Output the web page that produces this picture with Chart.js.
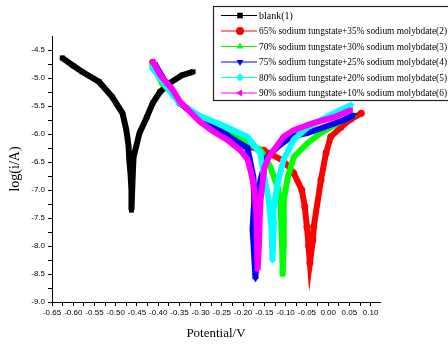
<!DOCTYPE html>
<html>
<head>
<meta charset="utf-8">
<script src="https://cdn.jsdelivr.net/npm/chart.js@4.4.1/dist/chart.umd.min.js"></script>
<style>
  html, body { margin: 0; padding: 0; background: #fff; }
  #wrap { width: 448px; height: 345px; position: relative; }
</style>
</head>
<body>
<div id="wrap"><canvas id="c" width="448" height="345"></canvas></div>
<script>
// tick labels
const xTicks = [-0.65, -0.60, -0.55, -0.50, -0.45, -0.40, -0.35, -0.30, -0.25, -0.20, -0.15, -0.10, -0.05, 0.00, 0.05, 0.10];
const yTicks = [-9.0, -8.5, -8.0, -7.5, -7.0, -6.5, -6.0, -5.5, -5.0, -4.5];

const seriesNames = [
    'blank(1)',
    '65% sodium tungstate+35% sodium molybdate(2)',
    '70% sodium tungstate+30% sodium molybdate(3)',
    '75% sodium tungstate+25% sodium molybdate(4)',
    '80% sodium tungstate+20% sodium molybdate(5)',
    '90% sodium tungstate+10% sodium molybdate(6)'
];

// [potential V, log(i/A)]
const blank = [
    [-0.626, -4.64], [-0.600, -4.78], [-0.579, -4.89], [-0.539, -5.07], [-0.508, -5.34],
    [-0.484, -5.63], [-0.475, -5.93], [-0.470, -6.20], [-0.468, -6.46], [-0.465, -6.73],
    [-0.463, -7.00], [-0.463, -7.36],
    [-0.460, -6.73], [-0.458, -6.41], [-0.444, -5.98], [-0.427, -5.70], [-0.413, -5.45],
    [-0.396, -5.25], [-0.373, -5.09], [-0.344, -4.95], [-0.318, -4.89]
];
const mix65 = [
    [-0.413, -4.72], [-0.390, -5.08], [-0.366, -5.27], [-0.349, -5.45], [-0.302, -5.72],
    [-0.238, -6.00], [-0.190, -6.22], [-0.152, -6.29], [-0.105, -6.48], [-0.081, -6.70],
    [-0.062, -7.00], [-0.055, -7.30], [-0.050, -7.66], [-0.046, -8.00], [-0.043, -8.30],
    [-0.036, -7.90], [-0.034, -7.66], [-0.017, -6.82], [-0.005, -6.34], [0.006, -6.05],
    [0.030, -5.88], [0.054, -5.73], [0.078, -5.63]
];
const mix70 = [
    [-0.415, -4.75], [-0.390, -5.10], [-0.366, -5.28], [-0.349, -5.45], [-0.302, -5.72],
    [-0.238, -5.95], [-0.190, -6.15], [-0.159, -6.29], [-0.136, -6.59], [-0.119, -6.95],
    [-0.112, -7.18], [-0.110, -7.70], [-0.108, -8.10], [-0.107, -8.52],
    [-0.105, -8.00], [-0.104, -7.50], [-0.105, -7.18], [-0.095, -6.77], [-0.081, -6.41],
    [-0.048, -6.16], [-0.017, -5.98], [0.023, -5.80], [0.061, -5.66]
];
const mix75 = [
    [-0.408, -4.75], [-0.385, -5.05], [-0.366, -5.25], [-0.349, -5.45], [-0.302, -5.72],
    [-0.271, -5.88], [-0.238, -6.02], [-0.223, -6.10], [-0.190, -6.25], [-0.176, -6.77],
    [-0.174, -7.18], [-0.178, -7.71], [-0.176, -7.93], [-0.171, -8.59],
    [-0.168, -7.50], [-0.165, -7.10], [-0.159, -6.82], [-0.150, -6.55], [-0.143, -6.41],
    [-0.119, -6.23], [-0.088, -6.05], [-0.048, -5.98], [-0.010, -5.88], [0.037, -5.75],
    [0.061, -5.66]
];
const mix80 = [
    [-0.415, -4.82], [-0.385, -5.10], [-0.366, -5.30], [-0.349, -5.45], [-0.302, -5.68],
    [-0.238, -5.88], [-0.190, -6.05], [-0.160, -6.34], [-0.152, -6.70], [-0.140, -7.18],
    [-0.133, -7.70], [-0.131, -8.25],
    [-0.128, -7.60], [-0.129, -7.36], [-0.119, -6.88], [-0.105, -6.46], [-0.081, -6.10],
    [-0.048, -5.88], [-0.017, -5.75], [0.014, -5.63], [0.054, -5.48]
];
const mix90 = [
    [-0.413, -4.70], [-0.395, -4.95], [-0.366, -5.21], [-0.349, -5.42], [-0.332, -5.55],
    [-0.302, -5.78], [-0.271, -5.95], [-0.238, -6.10], [-0.207, -6.29], [-0.190, -6.45],
    [-0.183, -6.64], [-0.176, -6.88], [-0.171, -7.20], [-0.168, -7.60], [-0.167, -8.00],
    [-0.166, -8.43],
    [-0.163, -8.00], [-0.161, -7.50], [-0.159, -7.18], [-0.155, -6.90], [-0.150, -6.60],
    [-0.140, -6.41], [-0.129, -6.30], [-0.105, -6.05], [-0.081, -5.93], [-0.034, -5.80],
    [0.014, -5.70], [0.054, -5.57]
];

const seriesData = [blank, mix65, mix70, mix75, mix80, mix90];
const colors = ['#000000', '#ff0000', '#00ff00', '#0000ff', '#00ffff', '#ff00ff'];
const styles = ['rect', 'circle', 'triangle', 'triangle', 'rectRot', 'triangle'];
const rotations = [0, 0, 0, 180, 0, 270];

const datasets = seriesData.map((d, i) => ({
    label: seriesNames[i],
    data: d.map(p => ({ x: p[0], y: p[1] })),
    showLine: true,
    borderColor: colors[i],
    backgroundColor: colors[i],
    borderWidth: 6,
    pointStyle: styles[i],
    rotation: rotations[i],
    pointRadius: 3.5,
    pointBorderWidth: 0,
    order: 5 - i
}));

function buildTicks(majors, step) {
    const out = [];
    majors.forEach((v, i) => {
        out.push({ value: v, major: true });
        if (i < majors.length - 1) out.push({ value: v + step / 2, major: false });
    });
    return out;
}

// legend drawn inside the plot, top right, like the original
const boxLegend = {
    id: 'boxLegend',
    afterDraw(chart) {
        const ctx = chart.ctx;
        const x0 = 213, y0 = 6, w = 240, h = 94;
        ctx.save();
        ctx.fillStyle = '#fff';
        ctx.fillRect(x0, y0, w, h);
        ctx.strokeStyle = '#222';
        ctx.lineWidth = 1.2;
        ctx.strokeRect(x0 + 0.5, y0 + 0.5, w, h);
        seriesNames.forEach((name, i) => {
            const y = 15.5 + i * 15.5;
            ctx.strokeStyle = colors[i];
            ctx.lineWidth = 1;
            ctx.beginPath();
            ctx.moveTo(221, y);
            ctx.lineTo(257, y);
            ctx.stroke();
            ctx.fillStyle = colors[i];
            ctx.strokeStyle = colors[i];
            Chart.helpers.drawPoint(ctx, {
                pointStyle: styles[i],
                rotation: rotations[i],
                radius: 4,
                borderWidth: 0
            }, 240, y);
            ctx.fillStyle = '#000';
            ctx.font = '10px "Liberation Serif", serif';
            ctx.textBaseline = 'middle';
            ctx.fillText(name, 259, y + 0.5, 188);
        });
        ctx.restore();
    }
};

new Chart(document.getElementById('c'), {
    type: 'scatter',
    data: { datasets: datasets },
    options: {
        responsive: false,
        animation: false,
        layout: { padding: { left: 3, right: 68, top: 36, bottom: 0 } },
        plugins: {
            legend: { display: false },
            tooltip: { enabled: false }
        },
        elements: { line: { tension: 0 } },
        scales: {
            x: {
                type: 'linear',
                min: -0.65,
                max: 0.122,
                afterBuildTicks: function (scale) {
                    scale.ticks = buildTicks(xTicks, 0.05);
                },
                afterFit: function (scale) {
                    scale.height = 43;
                },
                grid: { drawOnChartArea: false, drawTicks: true, tickLength: 4, tickColor: '#000', tickWidth: 1 },
                border: { display: true, color: '#000', width: 1 },
                ticks: {
                    autoSkip: false,
                    maxRotation: 0,
                    padding: 2,
                    color: '#000',
                    font: { family: '"Liberation Sans", Arial, sans-serif', size: 8 },
                    callback: function (value, index, ticks) {
                        if (!ticks[index].major) return '';
                        return value.toFixed(2);
                    }
                },
                title: {
                    display: true,
                    text: 'Potential/V',
                    color: '#000',
                    font: { family: '"Liberation Serif", serif', size: 13 },
                    padding: { top: 8 }
                }
            },
            y: {
                type: 'linear',
                min: -9.0,
                max: -4.25,
                afterBuildTicks: function (scale) {
                    scale.ticks = buildTicks(yTicks, 0.5);
                },
                afterFit: function (scale) {
                    scale.width = 49;
                },
                grid: { drawOnChartArea: false, drawTicks: true, tickLength: 4, tickColor: '#000', tickWidth: 1 },
                border: { display: true, color: '#000', width: 1 },
                ticks: {
                    autoSkip: false,
                    padding: 3,
                    color: '#000',
                    font: { family: '"Liberation Sans", Arial, sans-serif', size: 8 },
                    callback: function (value, index, ticks) {
                        if (!ticks[index].major) return '';
                        return value.toFixed(1);
                    }
                },
                title: {
                    display: true,
                    text: 'log(i/A)',
                    color: '#000',
                    font: { family: '"Liberation Serif", serif', size: 14 },
                    padding: { bottom: 4 }
                }
            }
        }
    },
    plugins: [boxLegend]
});
</script>
</body>
</html>
